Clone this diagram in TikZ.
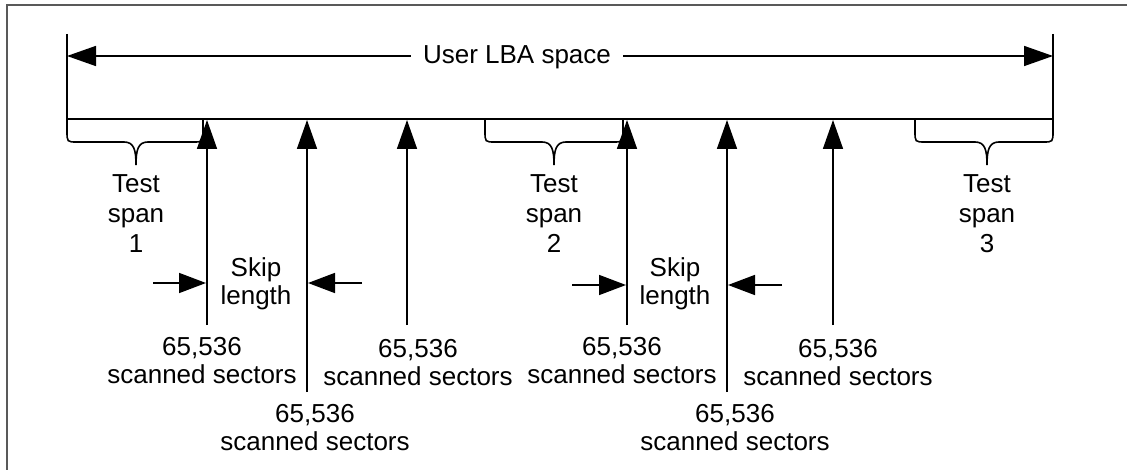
\documentclass[tikz,border=0pt]{standalone}
\usepackage{fontspec}
\setmainfont{Liberation Sans}
\usetikzlibrary{arrows.meta}
\begin{document}
\begin{tikzpicture}[x=1pt,y=-1pt,
  line/.style={line width=1.6pt,black},
  arr/.style={line width=1.6pt,black,-{Triangle[length=29pt,width=20pt]}},
  sarr/.style={line width=1.6pt,black,-{Triangle[length=27pt,width=20pt]}},
  lbl/.style={font=\fontsize{26}{28}\selectfont,align=center,inner sep=0pt,anchor=base},
  lbl3/.style={font=\fontsize{26}{30}\selectfont,align=center,inner sep=0pt,anchor=base},
  frame/.style={line width=1.8pt,black!65}]
\useasboundingbox (0,0) rectangle (1127,470);
% frame (top and left only)
\coordinate (fTL) at (7,5);
\coordinate (fTR) at (1127,5);
\coordinate (fBL) at (7,470);
\draw[frame] (fBL) -- (fTL) -- (fTR);
% user LBA space
\coordinate (tickLt) at (67,34);
\coordinate (tickLb) at (67,119);
\coordinate (tickRt) at (1053,34);
\coordinate (tickRb) at (1053,119);
\draw[line] (tickLt) -- (tickLb);
\draw[line] (tickRt) -- (tickRb);
\draw[line] (tickLb) -- (tickRb);
\node[lbl,anchor=center,inner xsep=12pt] (lba) at (517,57) {User LBA space};
\coordinate (lbaL) at (67,56);
\coordinate (lbaR) at (1053,56);
\draw[arr] (lba.west |- lbaL) -- (lbaL);
\draw[arr] (lba.east |- lbaR) -- (lbaR);
% braces
\foreach \xa/\xb/\c/\n in {67/203/136/1, 485/623/554/2, 915/1053/987/3}{
  \draw[line] (\xa,119) -- (\xa,131) .. controls (\xa,142) .. (\xa+10,142) -- (\c-12,142)
     .. controls (\c-2,142) and (\c,150) .. (\c,165)
     .. controls (\c,150) and (\c+2,142) .. (\c+12,142) -- (\xb-10,142)
     .. controls (\xb,142) .. (\xb,131) -- (\xb,119);
  \node[lbl3] (ts\n) at (\c,253) {Test\\span\\\n};
}
% scan arrows
\foreach \x/\yb/\n in {207/325/a, 307/392/b, 407/325/c, 627/325/d, 727/392/e, 833/325/f}{
  \coordinate (\n top) at (\x,120);
  \coordinate (\n bot) at (\x,\yb);
  \draw[arr] (\n bot) -- (\n top);
}
% skip length arrows
\coordinate (s1a) at (153,283); \coordinate (s1b) at (206,283);
\coordinate (s1c) at (362,283); \coordinate (s1d) at (308,283);
\coordinate (s2a) at (572,285); \coordinate (s2b) at (626,285);
\coordinate (s2c) at (782,285); \coordinate (s2d) at (728,285);
\draw[sarr] (s1a) -- (s1b);
\draw[sarr] (s1c) -- (s1d);
\draw[sarr] (s2a) -- (s2b);
\draw[sarr] (s2c) -- (s2d);
\node[lbl] (skip1) at (256,305) {Skip\\length};
\node[lbl] (skip2) at (675,305) {Skip\\length};
% sector labels
\node[lbl] (n1) at (202,383) {65,536\\scanned sectors};
\node[lbl] (n2) at (315,450) {65,536\\scanned sectors};
\node[lbl] (n3) at (418,385) {65,536\\scanned sectors};
\node[lbl] (n4) at (622,383) {65,536\\scanned sectors};
\node[lbl] (n5) at (735,450) {65,536\\scanned sectors};
\node[lbl] (n6) at (838,385) {65,536\\scanned sectors};
\end{tikzpicture}
\end{document}
